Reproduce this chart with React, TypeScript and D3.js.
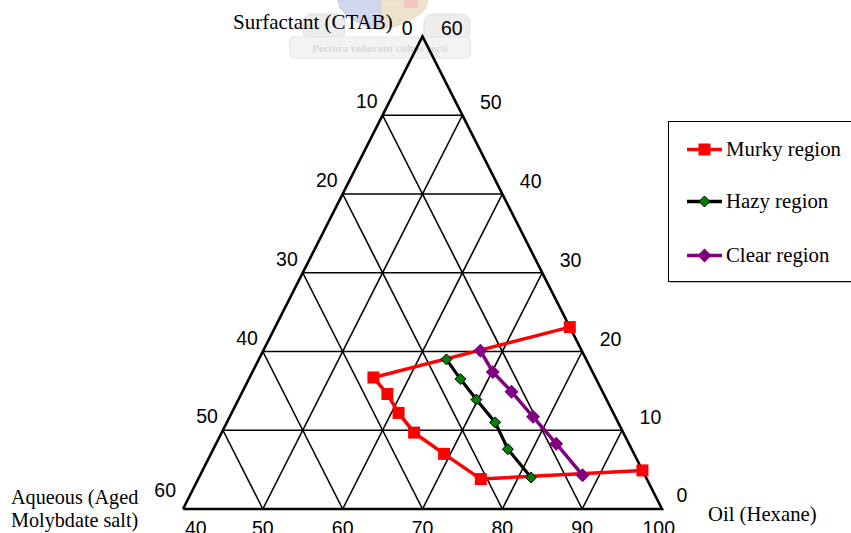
import React from "react";
import * as d3 from "d3";

// Phase boundary points: oil (hexane) % and surfactant (CTAB) %; aqueous = 100 - oil - surfactant
const murkyOil = [76.9, 55.5, 58.3, 60.9, 64.1, 69.2, 75.4, 95.1];
const murkySurf = [23.1, 16.7, 14.6, 12.2, 9.7, 7.0, 3.8, 4.9];
const hazyOil = [63.5, 66.5, 69.8, 73.6, 76.9, 81.6];
const hazySurf = [19.0, 16.5, 13.9, 11.0, 7.6, 4.0];
const clearOil = [67.2, 70.1, 73.7, 78.0, 82.6, 87.9];
const clearSurf = [20.1, 17.4, 14.9, 11.7, 8.3, 4.3];

const seriesNames = ["Murky region", "Hazy region", "Clear region"];

// Tick values along the three sides
const oilTicks = [40, 50, 60, 70, 80, 90, 100];
const aqueousTicks = [0, 10, 20, 30, 40, 50, 60];
const surfTicks = [0, 10, 20, 30, 40, 50, 60];

const W = 851;
const H = 533;

const xScale = d3.scaleLinear().domain([40, 100]).range([183, 662]);
const yScale = d3.scaleLinear().domain([0, 60]).range([509, 36.5]);

// Ternary projection: bottom axis is oil, height is surfactant
const project = (oil: number, surf: number): [number, number] => [
  xScale(oil + surf / 2),
  yScale(surf),
];

const lineGen = d3
  .line<[number, number]>()
  .x((d) => d[0])
  .y((d) => d[1]);

const zip = (o: number[], s: number[]) => o.map((v, i) => project(v, s[i]));

const numFont = "'Liberation Sans', Arial, sans-serif";
const serifFont = "'Liberation Serif', 'Times New Roman', serif";

function Square({ x, y, size, fill }: { x: number; y: number; size: number; fill: string }) {
  return <rect x={x - size / 2} y={y - size / 2} width={size} height={size} fill={fill} />;
}

function Diamond({
  x,
  y,
  r,
  fill,
  stroke,
}: {
  x: number;
  y: number;
  r: number;
  fill: string;
  stroke?: string;
}) {
  const pts = `${x},${y - r} ${x + r},${y} ${x},${y + r} ${x - r},${y}`;
  return <polygon points={pts} fill={fill} stroke={stroke || "none"} strokeWidth={1} />;
}

function Crest() {
  // faint university crest and motto banner in the header
  return (
    <g opacity={0.6}>
      <path d="M338,0 L381,0 L381,30 Q352,24 340,8 Z" fill="#b4bde2" stroke="#9ea9d8" />
      <path d="M381,0 L428,0 L426,8 Q412,24 381,30 Z" fill="#e6d0ad" stroke="#d8c09a" />
      <rect x={404} y={0} width={14} height={8} fill="#f0a0a0" />
      <rect x={303} y={14} width={42} height={26} rx={9} fill="#e2e2e2" stroke="#cccccc" />
      <rect x={424} y={14} width={46} height={26} rx={9} fill="#e2e2e2" stroke="#cccccc" />
      <rect x={290} y={37} width={180} height={21} rx={4} fill="#ececec" stroke="#d0d0d0" />
      <text
        x={380}
        y={52}
        textAnchor="middle"
        fontFamily={serifFont}
        fontWeight="bold"
        fontSize={11}
        fill="#bdbdbd"
      >
        Pectora roborant cultus recti
      </text>
    </g>
  );
}

export default function App() {
  const gridLines: [number, number][][] = [];
  for (let k = 10; k <= 50; k += 10) {
    gridLines.push([project(40, k), project(100 - k, k)]);
    gridLines.push([project(40 + k, 0), project(40 + k, 60 - k)]);
    gridLines.push([project(100 - k, 0), project(40, 60 - k)]);
  }
  const outline = [project(40, 0), project(100, 0), project(40, 60), project(40, 0)];

  const murky = zip(murkyOil, murkySurf);
  const hazy = zip(hazyOil, hazySurf);
  const clear = zip(clearOil, clearSurf);

  const legendY = [149.5, 201.5, 255.5];

  return (
    <svg
      width={W}
      height={H}
      style={{ position: "fixed", left: 0, top: 0, background: "#fff" }}
    >
      <rect width={W} height={H} fill="#fff" />
      <Crest />

      {gridLines.map((l, i) => (
        <path key={i} d={lineGen(l) || ""} stroke="#000" strokeWidth={1.6} fill="none" />
      ))}
      <path d={lineGen(outline) || ""} stroke="#000" strokeWidth={2.6} fill="none" strokeLinejoin="miter" />

      {/* aqueous ticks on the left side */}
      {aqueousTicks.map((a) => {
        const [x, y] = project(40, 60 - a);
        const top = a === 0;
        const bottom = a === 60;
        return (
          <text
            key={"a" + a}
            x={x - (top ? 10 : bottom ? 7 : 5)}
            y={y - (top ? 1.5 : bottom ? 12 : 7)}
            textAnchor="end"
            fontFamily={numFont}
            fontSize={19.5}
            fill="#000"
          >
            {a}
          </text>
        );
      })}

      {/* surfactant ticks on the right side */}
      {surfTicks.map((s) => {
        const [x, y] = project(100 - s, s);
        const top = s === 60;
        const bottom = s === 0;
        return (
          <text
            key={"s" + s}
            x={x + (top ? 18.5 : bottom ? 14.5 : 17.5)}
            y={y - (top ? 1.5 : bottom ? 7 : 6)}
            textAnchor="start"
            fontFamily={numFont}
            fontSize={19.5}
            fill="#000"
          >
            {s}
          </text>
        );
      })}

      {/* oil ticks along the base */}
      {oilTicks.map((o, i) => {
        const [x, y] = project(o, 0);
        const first = i === 0;
        const last = i === oilTicks.length - 1;
        return (
          <text
            key={"o" + o}
            x={first ? x + 2 : last ? x + 13 : x}
            y={y + 26}
            textAnchor={first ? "start" : last ? "end" : "middle"}
            fontFamily={numFont}
            fontSize={19.5}
            fill="#000"
          >
            {o}
          </text>
        );
      })}

      {/* axis titles */}
      <text x={233} y={28.5} fontFamily={serifFont} fontSize={21} fill="#000">
        Surfactant (CTAB)
      </text>
      <text x={11} y={503.5} fontFamily={serifFont} fontSize={20.2} fill="#000">
        Aqueous (Aged
      </text>
      <text x={11} y={527} fontFamily={serifFont} fontSize={20.2} fill="#000">
        Molybdate salt)
      </text>
      <text x={708} y={521} fontFamily={serifFont} fontSize={20.7} fill="#000">
        Oil (Hexane)
      </text>

      {/* murky region */}
      <path d={lineGen(murky) || ""} stroke="#ff0000" strokeWidth={3.5} fill="none" />
      {murky.map(([x, y], i) => (
        <Square key={"m" + i} x={x} y={y} size={12} fill="#ff0000" />
      ))}

      {/* hazy region */}
      <path d={lineGen(hazy) || ""} stroke="#000" strokeWidth={3.2} fill="none" />
      {hazy.map(([x, y], i) => (
        <Diamond key={"h" + i} x={x} y={y} r={5.5} fill="#008000" stroke="#000" />
      ))}

      {/* clear region */}
      <path d={lineGen(clear) || ""} stroke="#800080" strokeWidth={3.5} fill="none" />
      {clear.map(([x, y], i) => (
        <Diamond key={"c" + i} x={x} y={y} r={7} fill="#800080" />
      ))}

      {/* legend */}
      <rect x={669.5} y={122.5} width={200} height={160} fill="#808080" />
      <rect x={668.5} y={121.5} width={200} height={160} fill="#fff" stroke="#000" strokeWidth={1} />
      {seriesNames.map((name, i) => {
        const y = legendY[i];
        const color = i === 0 ? "#ff0000" : i === 1 ? "#000" : "#800080";
        return (
          <g key={name}>
            <line x1={687} x2={722} y1={y} y2={y} stroke={color} strokeWidth={3.5} />
            {i === 0 && <Square x={704.5} y={y} size={12} fill="#ff0000" />}
            {i === 1 && <Diamond x={704.5} y={y} r={5.5} fill="#008000" stroke="#000" />}
            {i === 2 && <Diamond x={704.5} y={y} r={7} fill="#800080" />}
            <text x={726} y={y + 6.8} fontFamily={serifFont} fontSize={20.8} fill="#000">
              {name}
            </text>
          </g>
        );
      })}
    </svg>
  );
}
